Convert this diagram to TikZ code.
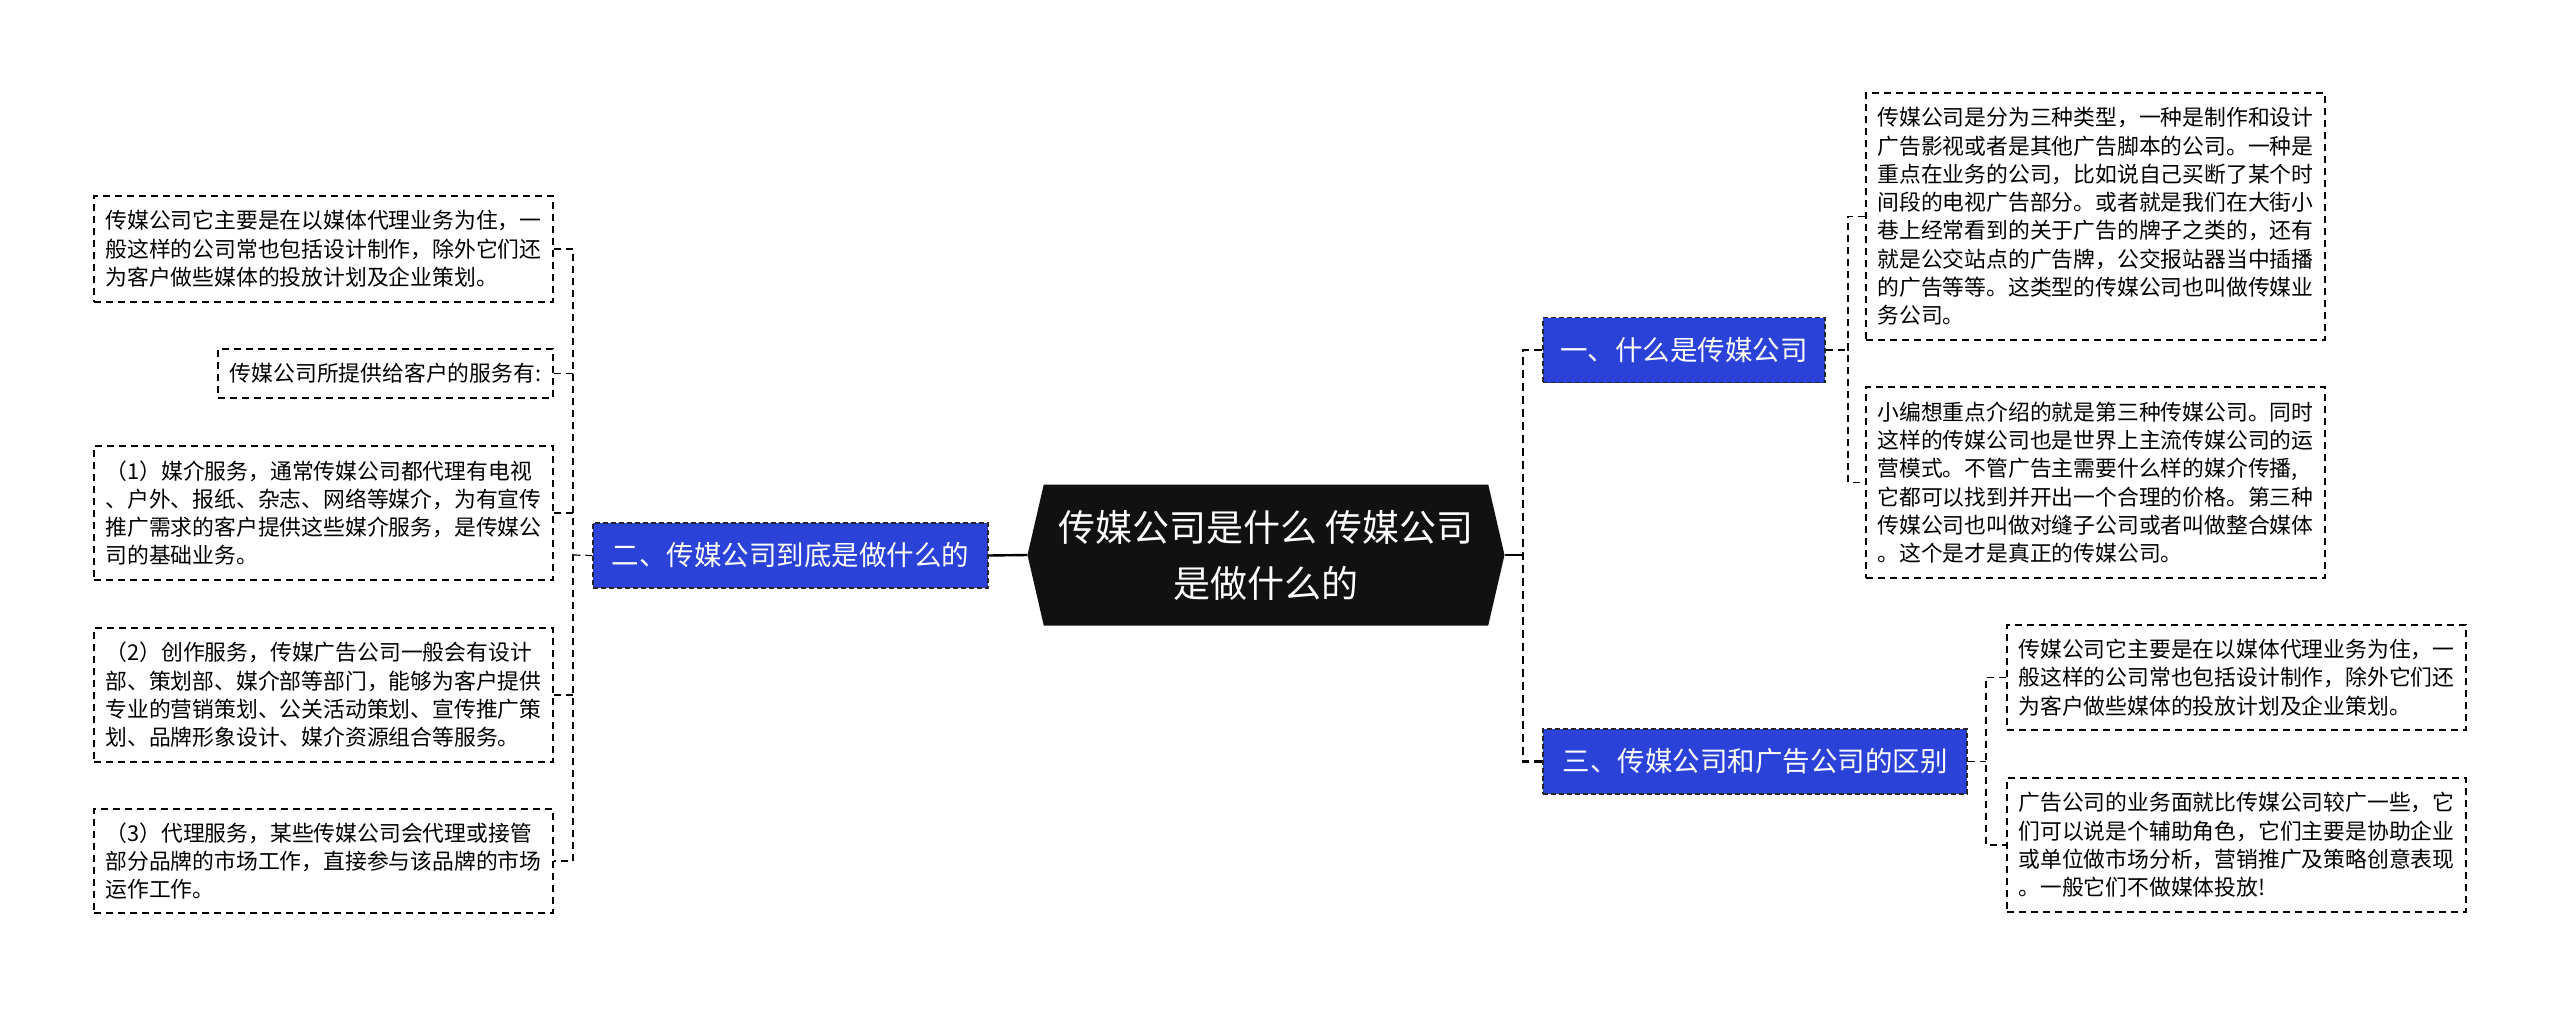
\documentclass[tikz,border=0pt]{standalone}
\usepackage{fontspec}
\setmainfont{Noto Sans CJK SC}
\usepackage{tikz}
\usetikzlibrary{shapes.symbols}
\definecolor{topicblue}{RGB}{42,66,216}
\definecolor{hubblack}{RGB}{17,17,17}

\begin{document}
\begin{tikzpicture}[x=1pt, y=-1pt,
  hub/.style = {signal, signal to=west and east, signal pointer angle=154, fill=hubblack, text=white, inner sep=0pt, align=center, font=\fontsize{37}{56}\selectfont},
  topic/.style = {draw=black!85, fill=topicblue, text=white, line width=1.3pt, dash pattern=on 5pt off 3pt, inner sep=0pt, minimum height=65pt, font=\fontsize{27.5}{33}\selectfont},
  leaf/.style = {draw, line width=1.2pt, dash pattern=on 7pt off 5pt, inner sep=0pt, align=left, minimum width=459pt, font=\fontsize{21.8}{28.3}\selectfont},
  link/.style = {line width=1.2pt, dash pattern=on 7pt off 5pt},
  trunk/.style = {line width=2.6pt, dash pattern=on 8pt off 5pt}]

\useasboundingbox (0,0) rectangle (2560,1009);

%% centre and topics
\node[hub, minimum width=477pt, minimum height=141pt] (c) at (1266,555) {传媒公司是什么 传媒公司\\是做什么的};
\node[topic, minimum width=282pt] (b1) at (1684,350) {一、什么是传媒公司};
\node[topic, minimum width=395pt] (b2) at (790.5,555.5) {二、传媒公司到底是做什么的};
\node[topic, minimum width=424pt] (b3) at (1755,761.5) {三、传媒公司和广告公司的区别};

%% left leaves
\node[leaf, minimum height=106pt] (l1) at (323.5,249) {传媒公司它主要是在以媒体代理业务为住，一\\般这样的公司常也包括设计制作，除外它们还\\为客户做些媒体的投放计划及企业策划。};
\node[leaf, minimum width=335pt, minimum height=49pt] (l2) at (385.5,373.5) {传媒公司所提供给客户的服务有:};
\node[leaf, minimum height=134pt] (l3) at (323.5,513) {（1）媒介服务，通常传媒公司都代理有电视\\、户外、报纸、杂志、网络等媒介，为有宣传\\推广需求的客户提供这些媒介服务，是传媒公\\司的基础业务。};
\node[leaf, minimum height=134pt] (l4) at (323.5,695) {（2）创作服务，传媒广告公司一般会有设计\\部、策划部、媒介部等部门，能够为客户提供\\专业的营销策划、公关活动策划、宣传推广策\\划、品牌形象设计、媒介资源组合等服务。};
\node[leaf, minimum height=104pt] (l5) at (323.5,861) {（3）代理服务，某些传媒公司会代理或接管\\部分品牌的市场工作，直接参与该品牌的市场\\运作工作。};

%% right leaves
\node[leaf, minimum height=247pt] (r1) at (2095.5,216.5) {传媒公司是分为三种类型，一种是制作和设计\\广告影视或者是其他广告脚本的公司。一种是\\重点在业务的公司，比如说自己买断了某个时\\间段的电视广告部分。或者就是我们在大街小\\巷上经常看到的关于广告的牌子之类的，还有\\就是公交站点的广告牌，公交报站器当中插播\\的广告等等。这类型的传媒公司也叫做传媒业\\务公司。};
\node[leaf, minimum height=191pt] (r2) at (2095.5,482.5) {小编想重点介绍的就是第三种传媒公司。同时\\这样的传媒公司也是世界上主流传媒公司的运\\营模式。不管广告主需要什么样的媒介传播,\\它都可以找到并开出一个合理的价格。第三种\\传媒公司也叫做对缝子公司或者叫做整合媒体\\。这个是才是真正的传媒公司。};
\node[leaf, minimum height=105pt] (r3) at (2236.5,677.5) {传媒公司它主要是在以媒体代理业务为住，一\\般这样的公司常也包括设计制作，除外它们还\\为客户做些媒体的投放计划及企业策划。};
\node[leaf, minimum height=134pt] (r4) at (2236.5,845) {广告公司的业务面就比传媒公司较广一些，它\\们可以说是个辅助角色，它们主要是协助企业\\或单位做市场分析，营销推广及策略创意表现\\。一般它们不做媒体投放!};

%% joints
\coordinate (rj) at (1523,555);
\coordinate (lj) at (573,555);
\coordinate (aj) at (1848,350);
\coordinate (cj) at (1986,761.5);

%% edges
\draw[line width=2.4pt] (c.west) -- (b2.east);
\draw[line width=2.4pt] (c.east) -- (rj);
\draw[trunk] (b1.west) -| (rj) |- (b3.west);
\draw[link] (b2.west) -- (lj);
\draw[link] (l1.east) -| (lj) |- (l5.east);
\draw[link] (l2.east) -- (l2.east -| lj);
\draw[link] (l3.east) -- (l3.east -| lj);
\draw[link] (l4.east) -- (l4.east -| lj);
\draw[link] (b1.east) -- (aj);
\draw[link] (r1.west) -| (aj) |- (r2.west);
\draw[link] (b3.east) -- (cj);
\draw[link] (r3.west) -| (cj) |- (r4.west);

\end{tikzpicture}
\end{document}
